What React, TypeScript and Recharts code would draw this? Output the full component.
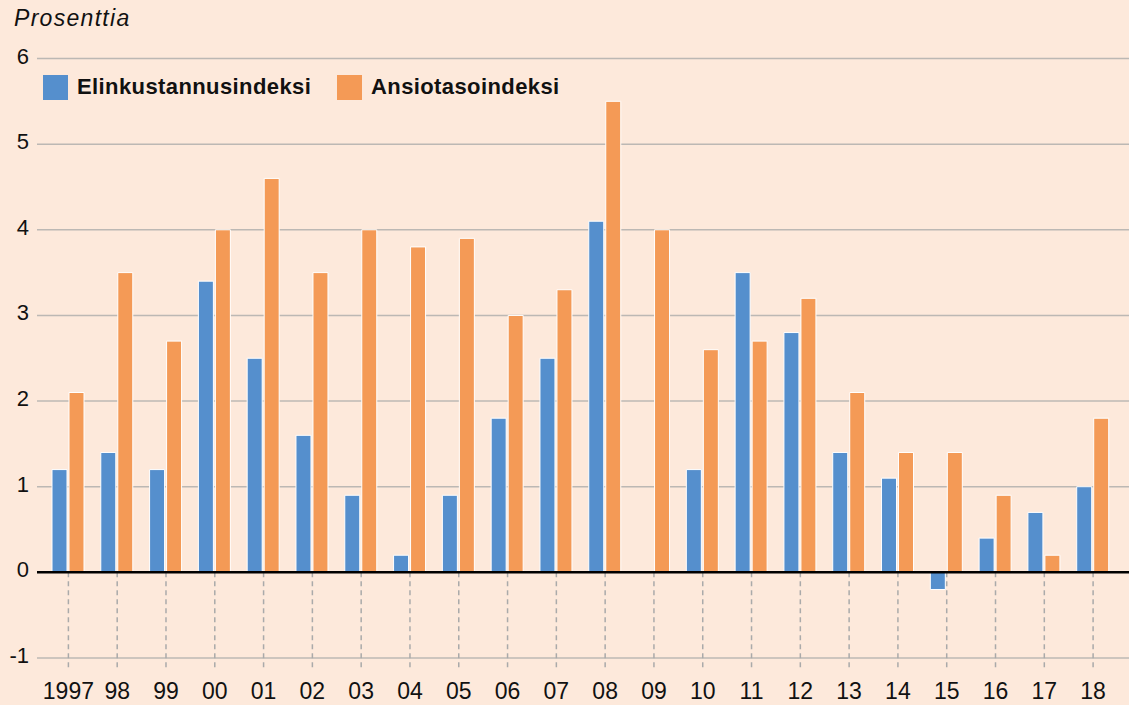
import React from 'react';
import {
    BarChart,
    Bar,
    XAxis,
    YAxis,
    CartesianGrid,
    ReferenceLine,
} from 'recharts';

const years = ['1997', '98', '99', '00', '01', '02', '03', '04', '05', '06', '07', '08', '09', '10', '11', '12', '13', '14', '15', '16', '17', '18'];
const elinkustannus = [1.2, 1.4, 1.2, 3.4, 2.5, 1.6, 0.9, 0.2, 0.9, 1.8, 2.5, 4.1, 0, 1.2, 3.5, 2.8, 1.4, 1.1, -0.2, 0.4, 0.7, 1.0];
const ansiotaso = [2.1, 3.5, 2.7, 4.0, 4.6, 3.5, 4.0, 3.8, 3.9, 3.0, 3.3, 5.5, 4.0, 2.6, 2.7, 3.2, 2.1, 1.4, 1.4, 0.9, 0.2, 1.8];
const yTicks = [-1, 0, 1, 2, 3, 4, 5, 6];

const BLUE = '#558fcd';
const ORANGE = '#f49a56';
const BG = '#fde9db';
const FONT = '"Liberation Sans", Arial, sans-serif';

const data = years.map((year, i) => ({
    year,
    elinkustannus: elinkustannus[i],
    ansiotaso: ansiotaso[i],
}));

function YTick(props: any) {
    const { x, y, payload } = props;
    return (
        <text x={x} y={y} dy={5} textAnchor="end" fontSize={22} fill="#111" fontFamily={FONT}>
            {payload.value}
        </text>
    );
}

function XTick(props: any) {
    const { x, y, payload } = props;
    return (
        <text x={x} y={y} dy={33} textAnchor="middle" fontSize={23} fill="#111" fontFamily={FONT}>
            {payload.value}
        </text>
    );
}

const legendItems = [
    { label: 'Elinkustannusindeksi', color: BLUE, left: 43 },
    { label: 'Ansiotasoindeksi', color: ORANGE, left: 337 },
];

export default function App() {
    return (
        <div
            style={{
                position: 'relative',
                width: 1129,
                height: 705,
                background: BG,
                overflow: 'hidden',
            }}
        >
            <style>{'body { margin: 0; }'}</style>
            <div
                style={{
                    position: 'absolute',
                    left: 14,
                    top: 5,
                    fontFamily: FONT,
                    fontStyle: 'italic',
                    fontSize: 23,
                    letterSpacing: 1.3,
                    color: '#111',
                }}
            >
                Prosenttia
            </div>
            {legendItems.map(item => (
                <div
                    key={item.label}
                    style={{
                        position: 'absolute',
                        left: item.left,
                        top: 74,
                        display: 'flex',
                        alignItems: 'center',
                        fontFamily: FONT,
                        zIndex: 2,
                    }}
                >
                    <div style={{ width: 25, height: 25, background: item.color, marginRight: 9 }} />
                    <span style={{ fontSize: 22, fontWeight: 'bold', letterSpacing: 0.4, color: '#111' }}>
                        {item.label}
                    </span>
                </div>
            ))}
            <BarChart
                width={1129}
                height={705}
                data={data}
                margin={{ top: 58.5, right: 0, left: 0, bottom: 0 }}
                barSize={15}
                barGap={2}
            >
                <CartesianGrid vertical={false} stroke="#bcb8b4" strokeWidth={1.5} />
                <XAxis
                    dataKey="year"
                    height={47}
                    axisLine={false}
                    tickLine={false}
                    interval={0}
                    padding={{ left: 7, right: 11.5 }}
                    tick={<XTick />}
                />
                <YAxis
                    width={37}
                    domain={[-1, 6]}
                    ticks={yTicks}
                    axisLine={false}
                    tickLine={false}
                    tick={<YTick />}
                    allowDataOverflow
                />
                {years.map(year => (
                    <ReferenceLine
                        key={year}
                        segment={[{ x: year, y: 0 }, { x: year, y: -1.14 }]}
                        stroke="#aaaaaa"
                        strokeWidth={1.5}
                        strokeDasharray="5 4"
                        ifOverflow="visible"
                    />
                ))}
                <Bar
                    dataKey="elinkustannus"
                    name="Elinkustannusindeksi"
                    fill={BLUE}
                    stroke="#ffffff"
                    strokeWidth={1}
                    isAnimationActive={false}
                />
                <Bar
                    dataKey="ansiotaso"
                    name="Ansiotasoindeksi"
                    fill={ORANGE}
                    stroke="#ffffff"
                    strokeWidth={1}
                    isAnimationActive={false}
                />
                <ReferenceLine y={0} stroke="#000" strokeWidth={2.5} />
            </BarChart>
        </div>
    );
}
